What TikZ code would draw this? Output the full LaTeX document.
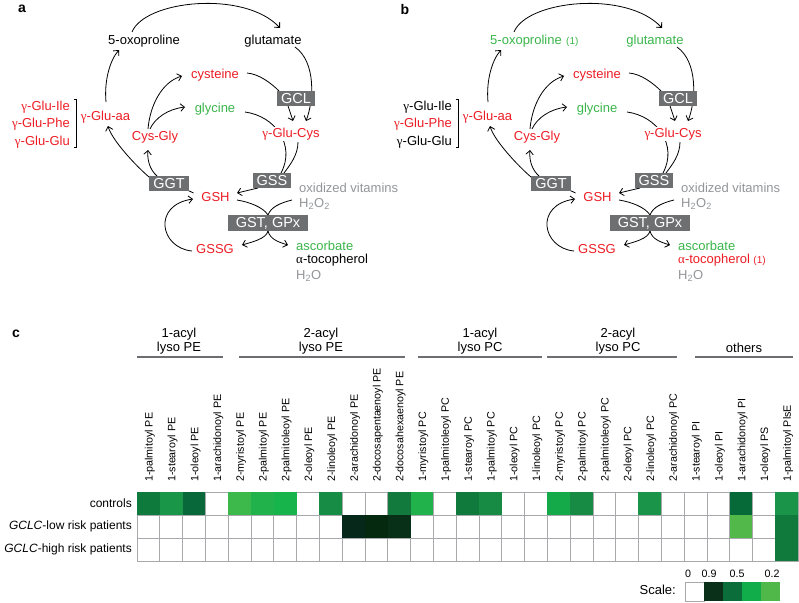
\documentclass[tikz,border=0pt]{standalone}
\usepackage{fontspec}
\setmainfont{Liberation Sans}
\newfontfamily\grkfont{Liberation Serif}
\usetikzlibrary{arrows.meta,calc}
\pgfdeclarelayer{bg}
\pgfsetlayers{bg,main}
\definecolor{myred}{HTML}{ED1C24}
\definecolor{mygreen}{HTML}{39B54A}
\definecolor{mygray}{HTML}{939598}
\definecolor{boxgray}{HTML}{6D6F70}
\definecolor{gridgray}{HTML}{A7A9AC}
\definecolor{hdrgray}{HTML}{6D6E71}
\definecolor{sA}{HTML}{0A301A}
\definecolor{sB}{HTML}{0B6E3A}
\definecolor{sC}{HTML}{12AD4B}
\definecolor{sD}{HTML}{50B848}
\newcommand\gam{{\grkfont γ}}
\newcommand\alp{{\grkfont α}}
\tikzset{
  txt/.style={font=\fontsize{13}{15}\selectfont, inner sep=1pt},
  enz/.style={fill=boxgray, text=white, font=\fontsize{14.5}{16}\selectfont, inner xsep=4pt, inner ysep=0pt, minimum height=15pt},
  ln/.style={line width=0.8pt, black},
  arr/.style={line width=0.8pt, black, -{Straight Barb[length=4pt,width=7.5pt]}},
  panellbl/.style={font=\fontsize{14}{16}\selectfont\bfseries, inner sep=0pt},
  hdr/.style={font=\fontsize{13}{14}\selectfont, align=center, inner sep=0pt},
  grp/.style={line width=1.6pt, hdrgray},
  collbl/.style={font=\fontsize{10.7}{12}\selectfont, rotate=90, anchor=west, inner sep=1pt},
  rowlbl/.style={font=\fontsize{12}{15}\selectfont, anchor=east, inner sep=0pt},
  cellb/.style={draw=gridgray, line width=0.6pt, fill=white},
  small/.style={font=\fontsize{10}{12}\selectfont, inner sep=0pt, anchor=base west}
}
% #1 prefix, #2 xshift, #3 ox col, #4 glu col, #5 ile col, #6 glg col, #7 toc col
\newcommand\pathway[7]{%
\begin{scope}[xshift=#2]
\node[txt,text=#3] (#1ox) at (144,41) {5-oxoproline};
\node[txt,text=#4] (#1glu) at (273,41) {glutamate};
\node[txt,text=myred] (#1cys) at (215,75) {cysteine};
\node[txt,text=mygreen] (#1gly) at (215,109) {glycine};
\node[txt,text=myred] (#1cg) at (155,137) {Cys-Gly};
\node[txt,text=myred] (#1gaa) at (105.5,117) {\gam-Glu-aa};
\node[txt,text=#5,anchor=east] (#1ile) at (71,107) {\gam-Glu-Ile};
\node[txt,text=myred,anchor=east] (#1phe) at (71,124) {\gam-Glu-Phe};
\node[txt,text=#6,anchor=east] (#1glg) at (71,142) {\gam-Glu-Glu};
\draw[line width=0.8pt] (73.5,99) -- (76.5,99) -- (76.5,147) -- (73.5,147);
\node[enz] (#1GGT) at (169,183.5) {GGT};
\node[txt,text=myred] (#1GSH) at (215.5,197) {GSH};
\node[enz] (#1GSS) at (272,180.5) {GSS};
\node[enz] (#1GCL) at (296,98.5) {GCL};
\node[txt,text=myred,fill=white] (#1gc) at (291,134) {\gam-Glu-Cys};
\node[txt,text=mygray,anchor=west] (#1oxv) at (298,188) {oxidized vitamins};
\node[txt,text=mygray,anchor=west] (#1HOO) at (298,204) {H\textsubscript{2}O\textsubscript{2}};
\node[enz,minimum width=80pt,minimum height=16pt] (#1GST) at (268,223) {GST, GPx};
\node[txt,text=myred] (#1GSSG) at (215,249) {GSSG};
\node[txt,text=mygreen,anchor=west] (#1asc) at (295,246) {ascorbate};
\node[txt,text=#7,anchor=west] (#1toc) at (295,260) {\alp-tocopherol};
\node[txt,text=mygray,anchor=west] (#1HO) at (295,276) {H\textsubscript{2}O};
\end{scope}
\begin{pgfonlayer}{bg}
\draw[arr] ($(#1ox)+(-12,-9)$) .. controls +(13,-32) and +(-35,-38) .. ($(#1glu)+(7,-13)$);
\draw[arr] ($(#1gaa)+(0.5,-15)$) .. controls +(-2,-21) and +(-9,10) .. ($(#1ox)+(-25,9)$);
\draw[arr] ($(#1GGT)+(-20,-6.5)$) .. controls +(-14,-12) and +(4,14) .. ($(#1gaa)+(2.5,9)$);
\draw[arr] ($(#1GGT)+(-12,-7.5)$) .. controls +(-7,-6) and +(-1,10) .. ($(#1cg)+(-7,13)$);
\draw[arr] ($(#1cg)+(-7,-8)$) .. controls +(2,-24) and +(-20,6) .. ($(#1cys)+(-33,1)$);
\draw[arr] ($(#1cg)+(-5,-8)$) .. controls +(5,-11) and +(-17,2) .. ($(#1gly)+(-30,-2)$);
\draw[ln] ($(#1GSH)+(-22,-4)$) -- ($(#1GGT)+(14,4.5)$);
\draw[arr] ($(#1GSSG)+(-23,2)$) .. controls +(-32,-3) and +(-41,6) .. ($(#1GSH)+(-22.5,2)$);
\draw[arr] ($(#1GSS)+(-14,7.5)$) -- ($(#1GSH)+(21.5,-4)$);
\draw[ln] ($(#1cys)+(32,-2)$) .. controls +(12,1) and +(-8,-8) .. ($(#1GCL)+(-17,-7.5)$);
\draw[arr] ($(#1GCL)+(-8,7.5)$) -- ($(#1gc)+(2,-13)$);
\draw[arr] ($(#1glu)+(22,6)$) .. controls +(21,15) and +(8,-21) .. ($(#1gc)+(15,-13)$);
\draw[ln] ($(#1gly)+(30,3)$) .. controls +(30,4) and +(15,-28) .. ($(#1GSS)+(9,-7.5)$);
\draw[ln] ($(#1gc)+(7,8)$) .. controls +(0,13) and +(6,-8) .. ($(#1GSS)+(12,-7.5)$);
\draw[ln] ($(#1GSH)+(21.5,3)$) .. controls +(12,2) and +(-5,-8) .. ($(#1GST)+(0,-8)$);
\draw[ln] ($(#1HOO.west)+(-6,-4)$) .. controls +(-12,3) and +(3,-8) .. ($(#1GST)+(0,-8)$);
\draw[arr] ($(#1GST)+(0,8)$) .. controls +(-2,8) and +(10,-3) .. ($(#1GSSG)+(27,-4)$);
\draw[arr] ($(#1GST)+(0,8)$) .. controls +(2,8) and +(-10,-3) .. ($(#1asc.west)+(-7,-1)$);
\end{pgfonlayer}
}
\begin{document}
\begin{tikzpicture}[x=1pt,y=-1pt]
\useasboundingbox (0,0) rectangle (799,602);
% panel labels
\node[panellbl] (la) at (22,9) {a};
\node[panellbl] (lb) at (405,9) {b};
\node[panellbl] (lc) at (16,334) {c};
% pathways
\pathway{a}{0pt}{black}{black}{myred}{myred}{black}
\pathway{b}{382pt}{mygreen}{mygreen}{black}{black}{myred}
\node[small,text=mygreen] (box1) at ([xshift=3pt]box.base east) {(1)};
\node[small,text=myred] (btoc1) at ([xshift=2pt]btoc.base east) {(1)};
% group headers
\node[hdr] (h1) at (179,341) {1-acyl\\lyso PE};
\node[hdr] (h2) at (321,341) {2-acyl\\lyso PE};
\node[hdr] (h3) at (480,341) {1-acyl\\lyso PC};
\node[hdr] (h4) at (618,341) {2-acyl\\lyso PC};
\node[hdr] (h5) at (744,348) {others};
\draw[grp] (137,357) -- (223,357);
\draw[grp] (239,357) -- (405,357);
\draw[grp] (418,357) -- (542,357);
\draw[grp] (547,357) -- (677,357);
\draw[grp] (695,357) -- (793,357);
% column labels
\foreach \t [count=\i] in {1-palmitoyl PE,1-stearoyl PE,1-oleoyl PE,1-arachidonoyl PE,2-myristoyl PE,2-palmitoyl PE,2-palmitoleoyl PE,2-oleoyl PE,2-linoleoyl PE,2-arachidonoyl PE,2-docosapentaenoyl PE,2-docosahexaenoyl PE,1-myristoyl PC,1-palmitoleoyl PC,1-stearoyl PC,1-palmitoyl PC,1-oleoyl PC,1-linoleoyl PC,2-myristoyl PC,2-palmitoyl PC,2-palmitoleoyl PC,2-oleoyl PC,2-linoleoyl PC,2-arachidonoyl PC,1-stearoyl PI,1-oleoyl PI,1-arachidonoyl PI,1-oleoyl PS,1-palmitoyl PlsE}
  {\node[collbl] (col\i) at ({137+22.793*(\i-0.5)+1.5},483) {\t};}
% row labels
\node[rowlbl] (r1) at (132,503.5) {controls};
\node[rowlbl] (r2) at (132,526.5) {\textit{GCLC}-low risk patients};
\node[rowlbl] (r3) at (132,549.5) {\textit{GCLC}-high risk patients};
% grid
\foreach \r in {0,1,2}
  \foreach \c in {1,...,29}
    \draw[cellb] ({137+22.793*(\c-1)},{492+23*\r}) rectangle +(22.793,23);
% coloured cells
\foreach \c/\r/\hx in {1/0/0E7A3C,2/0/1A9649,3/0/08683A,5/0/3DB84A,6/0/22B24B,7/0/17B34B,9/0/178C45,12/0/137A3D,13/0/22B24B,15/0/0F7A3C,16/0/178A44,19/0/14AA4A,20/0/178A44,23/0/1A9448,27/0/066A38,29/0/1A9448,10/1/06281A,11/1/04290F,12/1/083018,27/1/52B84A,29/1/0F7A3C,29/2/0F7A3C}
  {\definecolor{cc}{HTML}{\hx}
   \fill[cc] ({137+22.793*(\c-1)},{492+23*\r}) rectangle +(22.793,23);}
% scale
\node[txt,anchor=east] (scl) at (677,590) {Scale:};
\draw[cellb] (685,582) rectangle (704,601);
\fill[sA] (704,582) rectangle (723,601);
\fill[sB] (723,582) rectangle (742,601);
\fill[sC] (742,582) rectangle (761,601);
\fill[sD] (761,582) rectangle (780,601);
\node[font=\fontsize{10.7}{12}\selectfont,inner sep=0pt] (s0) at (688,574) {0};
\node[font=\fontsize{10.7}{12}\selectfont,inner sep=0pt] (s1) at (709,574) {0.9};
\node[font=\fontsize{10.7}{12}\selectfont,inner sep=0pt] (s2) at (737,574) {0.5};
\node[font=\fontsize{10.7}{12}\selectfont,inner sep=0pt] (s3) at (772,574) {0.2};
\end{tikzpicture}
\end{document}
